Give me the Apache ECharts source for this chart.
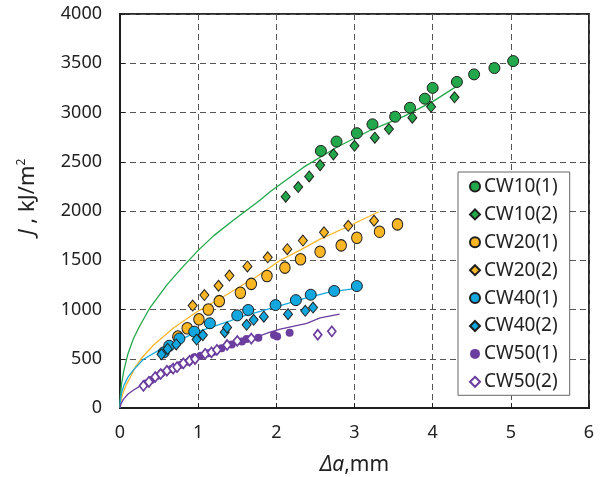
<!DOCTYPE html>
<html>
<head>
<meta charset="utf-8">
<script src="https://cdn.jsdelivr.net/npm/echarts@6/dist/echarts.min.js"></script>
<style>
  html, body { margin: 0; padding: 0; background: #fff; }
  #chart { width: 602px; height: 477px; }
</style>
</head>
<body>
<div id="chart"></div>
<script>
// Crack extension Δa (mm) versus J-integral (kJ/m²)
const xTicks = [0, 1, 2, 3, 4, 5, 6];
const yTicks = [0, 500, 1000, 1500, 2000, 2500, 3000, 3500, 4000];

const cw10_1 = [[2.57,2610],[2.77,2705],[3.03,2790],[3.23,2880],[3.52,2957],[3.71,3048],[3.90,3140],[4.00,3250],[4.31,3310],[4.53,3387],[4.79,3451],[5.03,3522]];
const cw10_2 = [[2.12,2145],[2.28,2243],[2.42,2351],[2.56,2466],[2.73,2575],[3.00,2662],[3.26,2744],[3.44,2832],[3.74,2947],[3.98,3058],[4.28,3154]];
const cw20_1 = [[0.74,725],[0.86,810],[1.01,900],[1.13,1000],[1.27,1085],[1.54,1170],[1.68,1260],[1.88,1340],[2.11,1425],[2.31,1510],[2.56,1587],[2.83,1651],[3.03,1729],[3.32,1790],[3.55,1864]];
const cw20_2 = [[0.93,1040],[1.08,1147],[1.26,1241],[1.40,1345],[1.63,1437],[1.89,1530],[2.14,1612],[2.34,1700],[2.61,1783],[2.92,1850],[3.25,1901]];
const cw40_1 = [[0.56,565],[0.63,632],[0.76,705],[0.95,775],[1.15,860],[1.50,940],[1.64,995],[1.99,1045],[2.25,1095],[2.44,1150],[2.74,1188],[3.03,1238]];
const cw40_2 = [[0.53,545],[0.61,600],[0.72,645],[0.98,695],[1.06,740],[1.34,770],[1.37,818],[1.62,845],[1.71,895],[1.84,927],[2.15,953],[2.37,987],[2.47,1020]];
const cw50_1 = [[0.33,250],[0.40,285],[0.47,325],[0.53,352],[0.66,396],[0.78,440],[0.88,470],[0.95,515],[1.03,530],[1.13,555],[1.20,572],[1.30,606],[1.43,645],[1.56,675],[1.62,700],[1.77,714],[1.97,741],[2.01,725],[2.17,764]];
const cw50_2 = [[0.30,225],[0.37,265],[0.45,315],[0.52,345],[0.60,378],[0.68,400],[0.73,415],[0.81,453],[0.89,480],[0.96,497],[1.09,550],[1.17,565],[1.24,590],[1.37,640],[1.50,680],[1.68,705],[2.53,744],[2.71,778]];

// Fitted J-R curves
const fit10 = [[0,0],[0.005,125],[0.02,245],[0.05,385],[0.1,545],[0.17,700],[0.25,830],[0.385,1020],[0.6,1250],[0.8,1430],[1.0,1600],[1.2,1750],[1.45,1905],[1.79,2110],[1.92,2195],[2.35,2445],[2.78,2650],[3.21,2822],[3.63,2960],[4.0,3110],[4.31,3268]];
const fit20 = [[0,0],[0.01,70],[0.04,155],[0.08,235],[0.13,310],[0.2,420],[0.28,510],[0.43,640],[0.68,810],[0.98,975],[1.32,1130],[1.75,1335],[2.05,1500],[2.31,1605],[2.56,1715],[2.91,1840],[3.31,1992]];
const fit40 = [[0,0],[0.005,80],[0.02,155],[0.05,230],[0.1,310],[0.17,385],[0.30,495],[0.56,615],[0.98,770],[1.41,885],[1.54,925],[2.01,1028],[2.35,1110],[2.69,1180],[3.10,1223]];
const fit50 = [[0,0],[0.01,35],[0.04,85],[0.1,140],[0.17,180],[0.30,245],[0.50,340],[0.75,430],[1.0,510],[1.3,600],[1.6,680],[1.92,770],[2.05,800],[2.39,860],[2.56,915],[2.81,954]];

const GREEN = '#22a84a', ORANGE = '#fbb626', BLUE = '#12a8df', PURPLE = '#6a3d9e';
const EDGE = '#1e1e1e';
const FONT = 'Noto Sans';

function pts(name, data, symbol, size, fill, border, bw) {
  return {
    name, type: 'scatter', data, symbol, symbolSize: size, z: 3,
    itemStyle: { color: fill, borderColor: border, borderWidth: bw, opacity: 1 },
    emphasis: { disabled: true }
  };
}
function fit(data, color) {
  return {
    type: 'line', data, smooth: false, showSymbol: false, symbol: 'none', z: 2,
    lineStyle: { color, width: 1.3, join: 'round' }, silent: true
  };
}

const chart = echarts.init(document.getElementById('chart'), null, { renderer: 'canvas' });
chart.setOption({
  animation: false,
  backgroundColor: '#fff',
  textStyle: { fontFamily: FONT },
  grid: { left: 120, right: 13, top: 14, bottom: 69, outerBoundsMode: 'none', containLabel: false,
    show: true, borderColor: '#2a2a2a', borderWidth: 2, backgroundColor: 'transparent' },
  xAxis: {
    type: 'value', min: xTicks[0], max: xTicks[xTicks.length - 1], interval: 1,
    axisLine: { show: true, onZero: false, lineStyle: { color: '#1e1e1e', width: 2 } },
    axisTick: { show: true, inside: true, length: 5, lineStyle: { color: '#1e1e1e' } },
    axisLabel: { color: '#222', fontSize: 18, fontFamily: FONT, margin: 16, formatter: v => String(v) },
    splitLine: { show: true, lineStyle: { color: '#555', width: 1, type: [6, 4] } },
    name: '{i|Δa},mm', nameLocation: 'middle', nameGap: 47,
    nameTextStyle: { color: '#222', fontSize: 21, fontFamily: FONT,
      rich: { i: { fontStyle: 'italic', fontSize: 21, fontFamily: FONT, color: '#222' } } }
  },
  yAxis: {
    type: 'value', min: yTicks[0], max: yTicks[yTicks.length - 1], interval: 500,
    axisLine: { show: true, onZero: false, lineStyle: { color: '#1e1e1e', width: 2 } },
    axisTick: { show: true, inside: true, length: 5, lineStyle: { color: '#1e1e1e' } },
    axisLabel: { color: '#222', fontSize: 18, fontFamily: FONT, margin: 18, formatter: v => String(v) },
    splitLine: { show: true, lineStyle: { color: '#555', width: 1, type: [6, 4] } }
  },
  graphic: [{
    type: 'text', x: 28, y: 197, rotation: Math.PI / 2, z: 10,
    style: {
      text: '{i|J} , kJ/m{s|2}', align: 'center', verticalAlign: 'middle',
      fill: '#222', fontSize: 22, fontFamily: FONT,
      rich: {
        i: { fontStyle: 'italic', fontSize: 22, fontFamily: FONT, fill: '#222' },
        s: { fontSize: 12, fontFamily: FONT, fill: '#222', verticalAlign: 'top', padding: [0, 0, 12, 0] }
      }
    }
  }],
  legend: {
    orient: 'vertical', left: 458, top: 172, width: 113,
    padding: [5, 12, 4, 11], itemGap: 8.9, itemWidth: 10, itemHeight: 10,
    backgroundColor: '#fff', borderColor: '#666', borderWidth: 1,
    textStyle: { color: '#222', fontSize: 19, fontFamily: FONT, lineHeight: 18.6, padding: [0, 0, 0, -1] },
    data: ['CW10(1)', 'CW10(2)', 'CW20(1)', 'CW20(2)', 'CW40(1)', 'CW40(2)', 'CW50(1)', 'CW50(2)']
  },
  series: [
    fit(fit10, GREEN), fit(fit20, ORANGE), fit(fit40, BLUE), fit(fit50, PURPLE),
    pts('CW10(1)', cw10_1, 'circle', 11, GREEN, EDGE, 1),
    pts('CW10(2)', cw10_2, 'diamond', [9, 11], GREEN, EDGE, 1),
    pts('CW20(1)', cw20_1, 'circle', [10.5, 11.5], ORANGE, EDGE, 1),
    pts('CW20(2)', cw20_2, 'diamond', [9, 11], ORANGE, EDGE, 1),
    pts('CW40(1)', cw40_1, 'circle', 11, BLUE, EDGE, 1),
    pts('CW40(2)', cw40_2, 'diamond', [9, 11], BLUE, EDGE, 1),
    pts('CW50(1)', cw50_1, 'circle', 8, PURPLE, PURPLE, 0),
    pts('CW50(2)', cw50_2, 'diamond', [8, 10], '#fff', PURPLE, 1.7)
  ]
});
</script>
</body>
</html>
